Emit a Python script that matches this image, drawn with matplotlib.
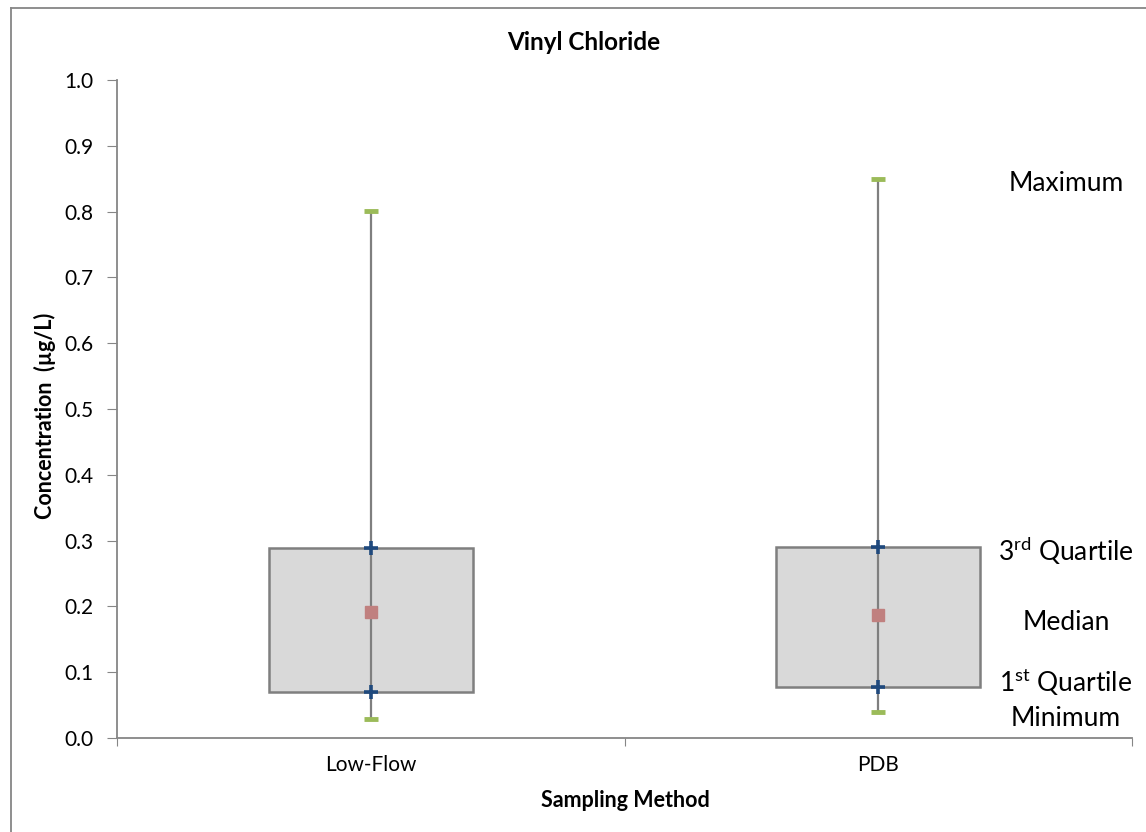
import matplotlib
matplotlib.use("Agg")
import matplotlib.pyplot as plt
from matplotlib.lines import Line2D

plt.rcParams['font.family'] = ['Lato', 'DejaVu Sans']
plt.rcParams['mathtext.fontset'] = 'custom'
plt.rcParams['mathtext.rm'] = 'Lato'

# summary statistics per sampling method
methods = ["Low-Flow", "PDB"]
minimum = [0.029, 0.040]
q1 = [0.070, 0.078]
median = [0.191, 0.187]
q3 = [0.289, 0.290]
maximum = [0.801, 0.850]

# labels for the box parts, shown at the right side
part_labels = ["Maximum", r"3$^{\mathrm{rd}}$ Quartile", "Median",
               r"1$^{\mathrm{st}}$ Quartile", "Minimum"]
part_label_y = [0.843, 0.284, 0.176, 0.085, 0.030]

fig = plt.figure(figsize=(11.46, 8.32), dpi=100)
ax = fig.add_axes([0.1021, 0.1130, 0.8857, 0.7908])

xs = list(range(len(methods)))
heights = [b - a for a, b in zip(q1, q3)]
ax.bar(xs, heights, bottom=q1, width=0.402, color="#d9d9d9",
       edgecolor="#7f7f7f", linewidth=1.8, zorder=2)
ax.vlines(xs, minimum, maximum, color="#7f7f7f", linewidth=1.6, zorder=3)

ax.plot(xs, maximum, ls="none", marker="_", ms=10, mew=3.5,
        color="#9bbb59", zorder=4)
ax.plot(xs, minimum, ls="none", marker="_", ms=10, mew=3.5,
        color="#9bbb59", zorder=4)
ax.plot(xs, q3, ls="none", marker="+", ms=10, mew=2.6,
        color="#1f497d", zorder=5)
ax.plot(xs, q1, ls="none", marker="+", ms=10, mew=2.6,
        color="#1f497d", zorder=5)
ax.plot(xs, median, ls="none", marker="s", ms=9,
        color="#c0807f", zorder=5)

for txt, yv in zip(part_labels, part_label_y):
    ax.text(1.37, yv, txt, ha="center", va="center", fontsize=19,
            color="black")

ax.set_xlim(-0.5, 1.5)
ax.set_ylim(0, 1.0)
ax.set_yticks([i / 10 for i in range(11)])
ax.set_yticklabels([f"{i / 10:.1f}" for i in range(11)], fontsize=15)
ax.set_xticks([-0.5, 0.5, 1.5])
ax.set_xticklabels([])
ax.set_xticks(xs, minor=True)
ax.set_xticklabels(methods, minor=True, fontsize=15)
ax.tick_params(axis="x", which="minor", length=0, pad=12)
ax.tick_params(axis="x", which="major", length=6, color="#868686")
ax.tick_params(axis="y", length=7, color="#868686", pad=10)

for side in ["top", "right"]:
    ax.spines[side].set_visible(False)
for side in ["left", "bottom"]:
    ax.spines[side].set_color("#868686")
    ax.spines[side].set_linewidth(1.3)

fig.text(0.509, 0.9495, "Vinyl Chloride", ha="center", va="center",
         fontsize=17.5, fontweight="bold")
fig.text(0.5455, 0.0373, "Sampling Method", ha="center", va="center",
         fontsize=15.5, fontweight="bold")
fig.text(0.0393, 0.5, "Concentration  (µg/L)", ha="center", va="center",
         rotation=90, fontsize=15.5, fontweight="bold")

# chart area outline
fig.add_artist(Line2D([0.0092, 0.0092], [0, 0.9904], transform=fig.transFigure,
                      color="#868686", linewidth=1.3))
fig.add_artist(Line2D([0.0092, 1.0], [0.9904, 0.9904], transform=fig.transFigure,
                      color="#868686", linewidth=1.3))

fig.savefig("out.png", dpi=100)
